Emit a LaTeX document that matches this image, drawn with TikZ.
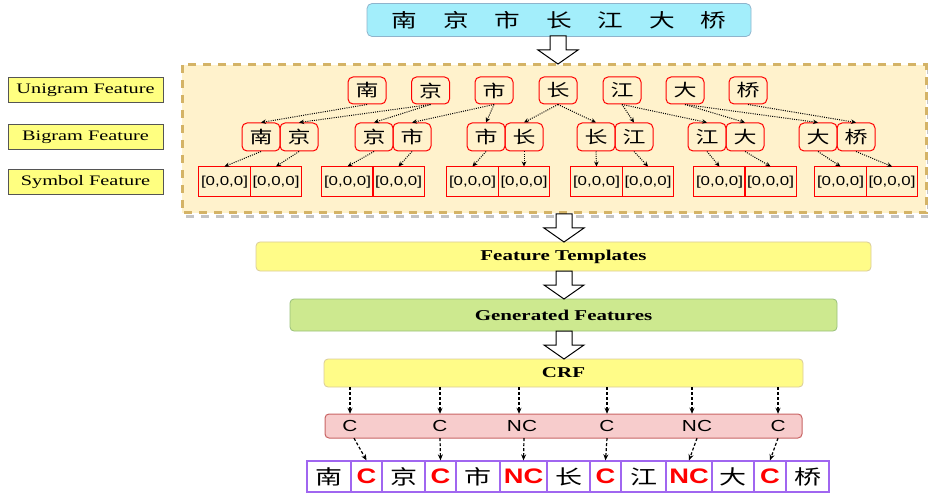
\documentclass[tikz,border=0pt]{standalone}
\usepackage{fontspec}
\setmainfont[FakeStretch=1.4]{Liberation Serif}
\newfontfamily\cjk[FakeStretch=1.35]{Noto Sans CJK SC}
\newfontfamily\arialf[FakeStretch=1.3]{Liberation Sans}
\usetikzlibrary{arrows.meta}
\definecolor{topF}{HTML}{A3EEFB}
\definecolor{topB}{HTML}{8FB4CC}
\definecolor{bgF}{HTML}{FFF2CC}
\definecolor{bgB}{HTML}{D4B366}
\definecolor{shadowC}{HTML}{C4C4C4}
\definecolor{labF}{HTML}{FFFF80}
\definecolor{labB}{HTML}{555555}
\definecolor{ftF}{HTML}{FFFC88}
\definecolor{ftB}{HTML}{D9CB9A}
\definecolor{gfF}{HTML}{CDE98F}
\definecolor{gfB}{HTML}{98C07A}
\definecolor{cncF}{HTML}{F7CCCC}
\definecolor{cncB}{HTML}{C86464}
\definecolor{cellB}{HTML}{A066F0}
\newcommand\zh[1]{\makebox[51.5pt]{#1}}
\newcommand\blockarrow[3]{%
  \draw[line width=1pt, fill=white, line join=miter]
    (#1-8,#2) -- (#1+8,#2) -- (#1+8,#3-14) -- (#1+20,#3-14) -- (#1,#3)
    -- (#1-20,#3-14) -- (#1-8,#3-14) -- cycle;}
\begin{document}
\begin{tikzpicture}[x=1pt,y=-1pt,
  topbox/.style={draw=topB, fill=topF, rounded corners=5pt, line width=0.8pt,
    minimum width=384pt, minimum height=33pt, inner sep=0pt,
    font=\cjk\fontsize{19}{19}\selectfont},
  lab/.style={draw=labB, fill=labF, line width=1pt, minimum width=155pt,
    minimum height=25pt, inner sep=0pt, font=\fontsize{14.5}{14.5}\selectfont},
  uni/.style={draw=red, rounded corners=5pt, line width=1pt, minimum width=38pt,
    minimum height=27pt, inner sep=0pt, font=\cjk\fontsize{17}{17}\selectfont},
  bi/.style={uni, minimum height=28pt},
  sym/.style={draw=red, line width=1pt, minimum width=51.5pt, minimum height=30pt,
    inner sep=0pt, font=\arialf\fontsize{13}{13}\selectfont},
  stage/.style={rounded corners=4pt, line width=0.8pt, inner sep=0pt,
    font=\bfseries\fontsize{15}{15}\selectfont},
  cnc/.style={minimum height=24pt, inner sep=0pt, font=\arialf\fontsize{16}{16}\selectfont},
  cell/.style={draw=cellB, line width=1.3pt, fill=white, minimum height=31pt, inner sep=0pt},
  zhc/.style={cell, font=\cjk\fontsize{20}{20}\selectfont},
  tagc/.style={cell, text=red, font=\arialf\bfseries\fontsize{21}{21}\selectfont},
  dotarr/.style={dash pattern=on 1pt off 1.2pt, line width=1pt, -{Stealth[length=5pt,width=4.5pt]}},
  dasharr/.style={dash pattern=on 3pt off 2pt, line width=1.2pt, -{Stealth[length=6pt,width=5pt]}}
]
\useasboundingbox (0,0) rectangle (928,494);

% sentence
\node[topbox] (sent) at (559,20) {\zh{南}\zh{京}\zh{市}\zh{长}\zh{江}\zh{大}\zh{桥}};

% feature area
\draw[shadowC, line width=3pt, dash pattern=on 8pt off 7pt] (184,69) rectangle (928,217);
\fill[bgF] (182,65) rectangle (926,213);
\draw[bgB, line width=3pt, dash pattern=on 8pt off 7pt] (182,65) rectangle (926,213);

% left labels
\node[lab] (lu) at (85.5,90.5) {Unigram Feature};
\node[lab] (lb) at (85.5,137.5) {Bigram Feature};
\node[lab] (ls) at (85.5,182) {Symbol Feature};

% unigram
\node[uni] (u1) at (367,90.5) {南};
\node[uni] (u2) at (430.5,90.5) {京};
\node[uni] (u3) at (494,90.5) {市};
\node[uni] (u4) at (558,90.5) {长};
\node[uni] (u5) at (622,90.5) {江};
\node[uni] (u6) at (685,90.5) {大};
\node[uni] (u7) at (748,90.5) {桥};

% bigram
\node[bi] (b1a) at (261,137) {南};
\node[bi] (b1b) at (299,137) {京};
\node[bi] (b2a) at (374,137) {京};
\node[bi] (b2b) at (412,137) {市};
\node[bi] (b3a) at (486,137) {市};
\node[bi] (b3b) at (524,137) {长};
\node[bi] (b4a) at (596,137) {长};
\node[bi] (b4b) at (634,137) {江};
\node[bi] (b5a) at (707,137) {江};
\node[bi] (b5b) at (745,137) {大};
\node[bi] (b6a) at (818,137) {大};
\node[bi] (b6b) at (856,137) {桥};

% symbol
\foreach \n/\x in {s1a/224.5, s1b/276, s2a/347.5, s2b/398.5, s3a/472.5, s3b/524,
                   s4a/596.5, s4b/648, s5a/719.5, s5b/770.5, s6a/840.5, s6b/892}
  \node[sym] (\n) at (\x,182) {[0,0,0]};

% unigram -> bigram
\draw[dotarr] (u1.south) -- (b1a.north);
\draw[dotarr] (u2.south) -- (b1b.north);
\draw[dotarr] (u2.south) -- (b2a.north);
\draw[dotarr] (u3.south) -- (b2b.north);
\draw[dotarr] (u3.south) -- (b3a.north);
\draw[dotarr] (u4.south) -- (b3b.north);
\draw[dotarr] (u4.south) -- (b4a.north);
\draw[dotarr] (u5.south) -- (b4b.north);
\draw[dotarr] (u5.south) -- (b5a.north);
\draw[dotarr] (u6.south) -- (b5b.north);
\draw[dotarr] (u6.south) -- (b6a.north);
\draw[dotarr] (u7.south) -- (b6b.north);

% bigram -> symbol
\foreach \p in {1,...,6}{
  \draw[dotarr] (b\p a.south) -- (s\p a.north);
  \draw[dotarr] (b\p b.south) -- (s\p b.north);
}

% stages
\node[stage, draw=ftB, fill=ftF, minimum width=615pt, minimum height=29pt] (ft) at (563.5,256.5) {Feature Templates};
\node[stage, draw=gfB, fill=gfF, minimum width=547pt, minimum height=32pt] (gf) at (563.5,315) {Generated Features};
\node[stage, draw=ftB, fill=ftF, minimum width=479pt, minimum height=28pt] (crf) at (563.5,373) {CRF};
\node[draw=cncB, fill=cncF, rounded corners=4pt, line width=1pt, minimum width=477pt, minimum height=24pt, inner sep=0pt] (cncbox) at (563.5,426) {};

% block arrows
\blockarrow{558}{36}{64}
\blockarrow{564}{214}{242}
\blockarrow{564}{271}{299}
\blockarrow{564}{331}{359}

% C / NC labels
\node[cnc] (l1) at (350,426) {C};
\node[cnc] (l2) at (440,426) {C};
\node[cnc] (l3) at (522,426) {NC};
\node[cnc] (l4) at (607,426) {C};
\node[cnc] (l5) at (697,426) {NC};
\node[cnc] (l6) at (778,426) {C};

% bottom row
\node[zhc,  minimum width=44pt] (c1)  at (329,476.5) {南};
\node[tagc, minimum width=31pt] (c2)  at (366.5,476.5) {C};
\node[zhc,  minimum width=43pt] (c3)  at (403.5,476.5) {京};
\node[tagc, minimum width=31pt] (c4)  at (440.5,476.5) {C};
\node[zhc,  minimum width=44pt] (c5)  at (478,476.5) {市};
\node[tagc, minimum width=47pt] (c6)  at (523.5,476.5) {NC};
\node[zhc,  minimum width=43pt] (c7)  at (568.5,476.5) {长};
\node[tagc, minimum width=31pt] (c8)  at (605.5,476.5) {C};
\node[zhc,  minimum width=45pt] (c9)  at (643.5,476.5) {江};
\node[tagc, minimum width=46pt] (c10) at (689,476.5) {NC};
\node[zhc,  minimum width=42pt] (c11) at (733,476.5) {大};
\node[tagc, minimum width=32pt] (c12) at (770,476.5) {C};
\node[zhc,  minimum width=43pt] (c13) at (807.5,476.5) {桥};

% CRF -> labels
\draw[dasharr] (crf.south -| l1) -- (l1.north);
\draw[dasharr] (crf.south -| l2) -- (l2.north);
\draw[dasharr] ([xshift=-3pt]crf.south -| l3) -- ([xshift=-3pt]l3.north);
\draw[dasharr] (crf.south -| l4) -- (l4.north);
\draw[dasharr] ([xshift=-5pt]crf.south -| l5) -- ([xshift=-5pt]l5.north);
\draw[dasharr] (crf.south -| l6) -- (l6.north);

% labels -> tags
\draw[dasharr] ([xshift=4pt]l1.south) -- (c2.north);
\draw[dasharr] (l2.south) -- (c4.north);
\draw[dasharr] ([xshift=2pt]l3.south) -- (c6.north);
\draw[dasharr] (l4.south) -- (c8.north);
\draw[dasharr] (l5.south) -- (c10.north);
\draw[dasharr] (l6.south) -- (c12.north);
\end{tikzpicture}
\end{document}
